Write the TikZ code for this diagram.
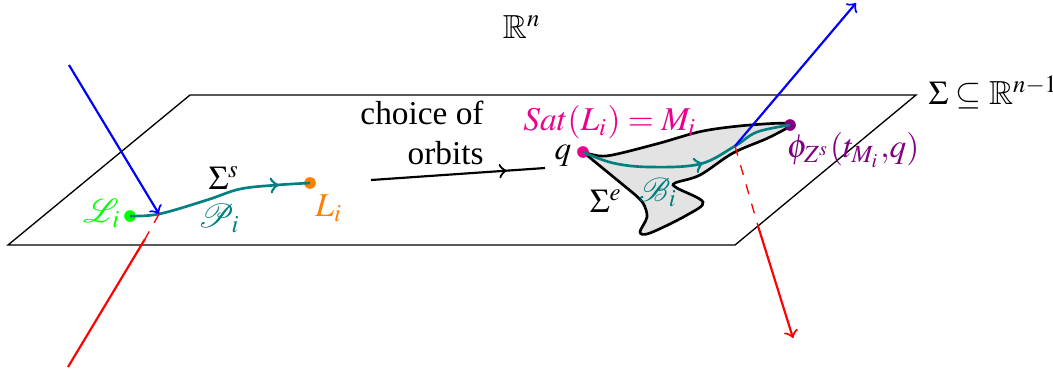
\documentclass[tikz,border=0pt]{standalone}
\usepackage{amsmath, amssymb}
\usepackage{mathptmx}
\usepackage{mathrsfs}
\usepackage[no-math]{fontspec}
\setmainfont{Liberation Serif}
\usepackage{xcolor}
\usepackage{tikz}
\usetikzlibrary{calc, positioning, decorations.markings}

\definecolor{satpink}{rgb}{0.93,0,0.55}
\definecolor{flowpurple}{rgb}{0.5,0,0.5}
\definecolor{pathteal}{rgb}{0,0.5,0.5}
\definecolor{startgreen}{rgb}{0,1,0}
\definecolor{endorange}{rgb}{1,0.5,0}
\tikzset{
    orbitpt/.style={circle, fill, inner sep=0pt, minimum size=3.5pt},
    ray/.style={line width=0.65pt},
    midarrow/.style={postaction={decorate}, decoration={markings, mark=at position #1 with {\arrow{to}}}},
}

\begin{document}
\begin{tikzpicture}[>=to, x=0.3pt, y=-0.3pt]
    \useasboundingbox (0,0) rectangle (1053,371);

    % 1. Mat phang Sigma
    \draw (8,245) -- (735,245) -- (916,95) -- (190,95) -- cycle;
    \node at (522,27) {$\mathbb{R}^n$};
    \node[right, inner xsep=0pt] (sigmaplane) at (928,92) {$\Sigma\subseteq\mathbb{R}^{n-1}$};

    % 2. Mien xam Sigma^e
    \draw[thick, fill=gray!22] plot[smooth, tension=0.55] coordinates {(583,152) (600,156) (617,154) (660,143) (703,131) (750,125) (790,124) (770,137) (733,153) (700,175) (675,183) (677,188) (703,202) (687,215) (650,233) (640,232) (647,217) (643,203) (633,193)} -- cycle;

    % 3. Cac diem
    \node[orbitpt, startgreen] (startpt) at (130,216) {};
    \node[orbitpt, endorange] (endpt) at (310,183) {};
    \node[orbitpt, satpink] (qpt) at (583,152) {};
    \node[orbitpt, flowpurple] (flowpt) at (790,125) {};
    \coordinate (hitleft) at (159,214);
    \coordinate (hitright) at (735,146);
    \coordinate (edgeleft) at (145,239);
    \coordinate (edgeright) at (758,226);

    % 4. Cac quy dao mau xanh
    \draw[thick, pathteal, midarrow=0.83] plot[smooth, tension=0.6] coordinates {(startpt) (hitleft) (207,200) (240,189) (277,185) (endpt)};
    \draw[thick, pathteal, midarrow=0.56] plot[smooth, tension=0.6] coordinates {(qpt) (613,163) (650,167) (700,164) (hitright) (757,132) (flowpt)};

    % 5. Cac tia xanh va do
    \coordinate (blueleft) at (69,65);
    \coordinate (blueright) at (856,3);
    \coordinate (redleft) at (68,367);
    \coordinate (redright) at (793,338);
    \draw[->, ray, blue] (blueleft) -- (hitleft);
    \draw[->, ray, blue] (hitright) -- (blueright);
    \draw[dashed, red] (hitleft) -- (edgeleft);
    \draw[ray, red] (edgeleft) -- (redleft);
    \draw[dashed, red] (hitright) -- (edgeright);
    \draw[->, ray, red] (edgeright) -- (redright);

    % 6. Mui ten lua chon quy dao
    \coordinate (choicefrom) at (371,180);
    \coordinate (choiceto) at (545,168);
    \draw[ray, midarrow=0.78] (choicefrom) -- (choiceto);
    \node[align=right, inner sep=0pt] (choicelbl) at (422,133) {choice of\\orbits};

    % 7. Cac nhan
    \node[startgreen] (startlbl) at (102,213) {$\mathscr{L}_i$};
    \node[endorange] (endlbl) at (329,208) {$L_i$};
    \node (sigmas) at (224,178) {$\Sigma^s$};
    \node[pathteal] (pathlbl) at (219,218) {$\mathscr{P}_i$};
    \node (qlbl) at (563,156) {$q$};
    \node[satpink] (satlbl) at (610,122) {$Sat(L_i)=M_i$};
    \node[flowpurple] (flowlbl) at (853,150) {$\phi_{Z^s}(t_{M_i},\!q)$};
    \node (sigmae) at (606,201) {$\Sigma^e$};
    \node[pathteal] (bandlbl) at (658,192) {$\mathscr{B}_i$};
\end{tikzpicture}
\end{document}
